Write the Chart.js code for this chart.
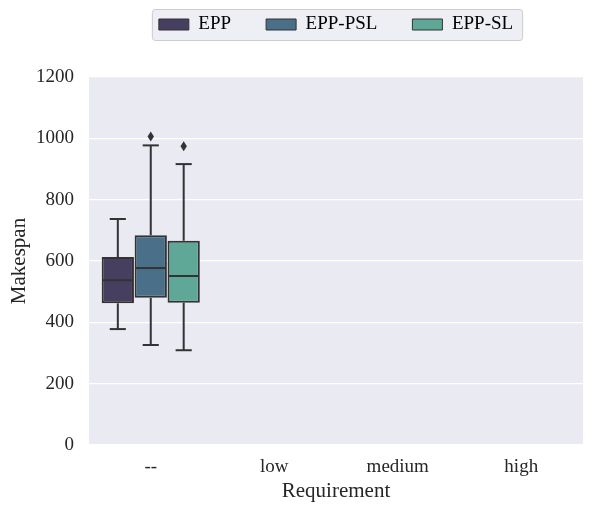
<!DOCTYPE html>
<html>
<head>
<meta charset="utf-8">
<script src="https://cdn.jsdelivr.net/npm/chart.js@4"></script>
<style>
  html, body { margin: 0; padding: 0; background: #fff; }
  #wrap { width: 594px; height: 512px; }
</style>
</head>
<body>
<div id="wrap"><canvas id="chart" width="594" height="512"></canvas></div>
<script>
// Data
const categories = ['--', 'low', 'medium', 'high'];
const seriesNames = ['EPP', 'EPP-PSL', 'EPP-SL'];
const seriesColors = ['#463f60', '#4a7089', '#5fa898'];

// box stats of the '--' category, one entry per series
const whiskerLow = [378, 326, 309];
const quartile1 = [462, 480, 464];
const medians = [537, 577, 551];
const quartile3 = [613, 684, 666];
const whiskerHigh = [737, 977, 916];
const outliers = [[], [1006], [974]];

const yTicks = [0, 200, 400, 600, 800, 1000, 1200];

const FONT = "'Liberation Serif', 'Times New Roman', serif";
const EDGE = '#333333';
const TEXT = '#262626';
const LEGEND_PAD = 35;
const LEGEND_ITEM_TOP = 15;

// floating bar per series: [q1, q3] on '--', nothing elsewhere
const datasets = seriesNames.map((name, i) => ({
    label: name,
    data: categories.map((c, j) => j === 0 ? [quartile1[i], quartile3[i]] : null),
    backgroundColor: seriesColors[i],
    borderColor: EDGE,
    borderWidth: 2,
    borderSkipped: false,
    categoryPercentage: 0.8,
    barPercentage: 0.98
}));

// keep the legend above the plot, centred on the plot area
const legendPlace = {
    id: 'legendPlace',
    beforeLayout(chart) {
        const legend = chart.legend;
        if (!legend || legend._wrapped) return;
        const fit = legend.fit;
        legend.fit = function () {
            fit.call(this);
            this.height = 77;
        };
        legend._wrapped = true;
    },
    afterLayout(chart) {
        const legend = chart.legend;
        const a = chart.chartArea;
        legend.left = a.left;
        legend.right = a.right;
        legend.width = a.right - a.left;
        legend.top = LEGEND_ITEM_TOP - LEGEND_PAD;
        legend.bottom = legend.top + legend.height;
        if (legend.adjustHitBoxes) legend.adjustHitBoxes();
    }
};

// plot background + legend frame
const backdrop = {
    id: 'backdrop',
    beforeDraw(chart) {
        const { ctx, chartArea: a, legend } = chart;
        ctx.save();
        ctx.fillStyle = '#eaeaf2';
        ctx.fillRect(a.left, a.top, a.right - a.left, a.bottom - a.top);
        if (legend && legend.legendHitBoxes.length) {
            const boxes = legend.legendHitBoxes;
            const first = boxes[0], last = boxes[boxes.length - 1];
            const x0 = first.left - 7, x1 = last.left + last.width + 9;
            const y0 = LEGEND_ITEM_TOP - 6, y1 = LEGEND_ITEM_TOP + first.height + 6;
            ctx.beginPath();
            ctx.roundRect(x0 + 0.5, y0 + 0.5, x1 - x0, y1 - y0, 3);
            ctx.fillStyle = 'rgba(234,234,242,0.8)';
            ctx.fill();
            ctx.strokeStyle = '#cccccc';
            ctx.lineWidth = 1;
            ctx.stroke();
        }
        ctx.restore();
    }
};

// whiskers, caps, medians and outlier diamonds
const boxParts = {
    id: 'boxParts',
    afterDatasetsDraw(chart) {
        const { ctx } = chart;
        const y = chart.scales.y;
        ctx.save();
        ctx.strokeStyle = EDGE;
        ctx.fillStyle = EDGE;
        ctx.lineWidth = 2;
        seriesNames.forEach((name, i) => {
            const bar = chart.getDatasetMeta(i).data[0];
            if (!bar) return;
            const cx = bar.x, half = bar.width / 2, cap = bar.width / 4;
            const line = (x0, y0, x1, y1) => {
                ctx.beginPath(); ctx.moveTo(x0, y0); ctx.lineTo(x1, y1); ctx.stroke();
            };
            // median
            line(cx - half + 1, y.getPixelForValue(medians[i]), cx + half - 1, y.getPixelForValue(medians[i]));
            // whiskers
            line(cx, y.getPixelForValue(quartile3[i]), cx, y.getPixelForValue(whiskerHigh[i]));
            line(cx, y.getPixelForValue(quartile1[i]), cx, y.getPixelForValue(whiskerLow[i]));
            // caps
            line(cx - cap, y.getPixelForValue(whiskerHigh[i]), cx + cap, y.getPixelForValue(whiskerHigh[i]));
            line(cx - cap, y.getPixelForValue(whiskerLow[i]), cx + cap, y.getPixelForValue(whiskerLow[i]));
            // outliers
            outliers[i].forEach(v => {
                const py = y.getPixelForValue(v);
                ctx.beginPath();
                ctx.moveTo(cx, py - 5);
                ctx.lineTo(cx + 3.2, py);
                ctx.lineTo(cx, py + 5);
                ctx.lineTo(cx - 3.2, py);
                ctx.closePath();
                ctx.fill();
            });
        });
        ctx.restore();
    }
};

new Chart(document.getElementById('chart'), {
    type: 'bar',
    data: { labels: categories, datasets },
    options: {
        responsive: false,
        animation: false,
        devicePixelRatio: 1,
        layout: { padding: { top: 0, right: 11, left: 3, bottom: 4 } },
        plugins: {
            legend: {
                position: 'top',
                labels: {
                    font: { family: FONT, size: 19 },
                    color: TEXT,
                    boxWidth: 30,
                    boxHeight: 11,
                    padding: LEGEND_PAD,
                    generateLabels(chart) {
                        return seriesNames.map((name, i) => ({
                            text: name,
                            fillStyle: seriesColors[i],
                            strokeStyle: EDGE,
                            lineWidth: 1,
                            datasetIndex: i
                        }));
                    }
                }
            },
            tooltip: { enabled: false }
        },
        scales: {
            x: {
                afterFit(axis) { axis.height = 63; },
                grid: { display: false, drawTicks: false },
                border: { display: false },
                ticks: { font: { family: FONT, size: 19 }, color: TEXT, padding: 11 },
                title: {
                    display: true, text: 'Requirement',
                    font: { family: FONT, size: 21 }, color: TEXT, padding: { top: 0, bottom: 4 }
                }
            },
            y: {
                min: 0,
                max: 1200,
                afterFit(axis) { axis.width = 86; },
                afterBuildTicks(axis) { axis.ticks = yTicks.map(v => ({ value: v })); },
                grid: { color: '#ffffff', lineWidth: 1.3, drawTicks: false },
                border: { display: false },
                ticks: {
                    font: { family: FONT, size: 19 }, color: TEXT, padding: 15,
                    callback: v => String(v)
                },
                title: {
                    display: true, text: 'Makespan',
                    font: { family: FONT, size: 21 }, color: TEXT, padding: { top: 4, bottom: 3 }
                }
            }
        }
    },
    plugins: [legendPlace, backdrop, boxParts]
});
</script>
</body>
</html>
